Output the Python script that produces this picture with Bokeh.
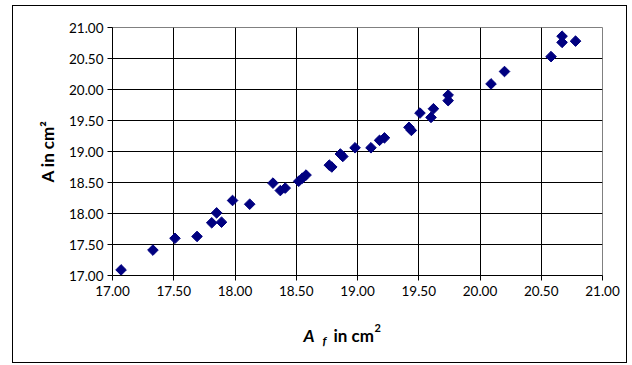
import math
from bokeh.plotting import figure
from bokeh.layouts import column
from bokeh.models import FixedTicker, NumeralTickFormatter, Label, Range1d
from bokeh.embed import file_html
from bokeh.resources import INLINE

# Data
af_values = [17.07, 17.33, 17.51, 17.69, 17.81, 17.85, 17.89, 17.98, 18.12, 18.31,
             18.37, 18.41, 18.52, 18.55, 18.58, 18.77, 18.79, 18.86, 18.88, 18.98,
             19.11, 19.18, 19.22, 19.42, 19.44, 19.51, 19.60, 19.62, 19.74, 19.74,
             20.09, 20.20, 20.58, 20.67, 20.67, 20.78]
a_values = [17.09, 17.41, 17.60, 17.63, 17.85, 18.01, 17.86, 18.21, 18.15, 18.49,
            18.37, 18.41, 18.52, 18.57, 18.62, 18.78, 18.75, 18.96, 18.92, 19.06,
            19.06, 19.18, 19.22, 19.39, 19.34, 19.62, 19.55, 19.69, 19.91, 19.82,
            20.09, 20.29, 20.53, 20.86, 20.76, 20.78]
tick_values = [17.0, 17.5, 18.0, 18.5, 19.0, 19.5, 20.0, 20.5, 21.0]

FONT = "Lato"
W = 613
BOTTOM_H = 57

p = figure(frame_width=490, frame_height=248,
           min_border_left=99, min_border_right=24, min_border_top=21, min_border_bottom=30,
           x_range=Range1d(17, 21), y_range=Range1d(17, 21),
           output_backend="svg", toolbar_location=None)

p.scatter(af_values, a_values, marker="square", angle=math.pi / 4, size=7.5,
          fill_color="#000080", line_color="#000080")

for ax in (p.xaxis[0], p.yaxis[0]):
    ax.ticker = FixedTicker(ticks=tick_values)
    ax.formatter = NumeralTickFormatter(format="0.00")
    ax.major_tick_in = 0
    ax.major_tick_out = 5
    ax.minor_tick_line_color = None
    ax.axis_line_color = "#000000"
    ax.major_tick_line_color = "#000000"
    ax.major_label_text_font = FONT
    ax.major_label_text_font_size = "13.5px"
    ax.major_label_text_color = "#000000"

p.xaxis.major_label_standoff = 5
p.yaxis.major_label_standoff = 4

p.yaxis.axis_label = "A in cm²"
p.yaxis.axis_label_text_font = FONT
p.yaxis.axis_label_text_font_style = "bold"
p.yaxis.axis_label_text_font_size = "17px"
p.yaxis.axis_label_text_color = "#000000"
p.yaxis.axis_label_standoff = 8

for g in (p.xgrid[0], p.ygrid[0]):
    g.ticker = FixedTicker(ticks=tick_values)
    g.grid_line_color = "#000000"
    g.grid_line_width = 1

p.outline_line_color = "#808080"
p.background_fill_color = "#ffffff"
p.border_fill_color = "#ffffff"

# Strip below the plot that carries the x-axis title (A_f in cm²)
q = figure(width=W, height=BOTTOM_H, min_border=0,
           x_range=Range1d(0, W), y_range=Range1d(0, BOTTOM_H),
           x_axis_location=None, y_axis_location=None,
           output_backend="svg", toolbar_location=None)
q.grid.visible = False
q.outline_line_color = None
q.background_fill_color = "#ffffff"
q.border_fill_color = "#ffffff"

common = dict(x_units="screen", y_units="screen", text_font=FONT,
              text_color="#000000", text_baseline="alphabetic")
q.add_layout(Label(x=191, y=27, text="A", text_font_size="17px",
                   text_font_style="bold italic", **common))
q.add_layout(Label(x=210, y=22, text="f", text_font_size="12px",
                   text_font_style="bold italic", **common))
q.add_layout(Label(x=221, y=27, text="in cm", text_font_size="17px",
                   text_font_style="bold", **common))
q.add_layout(Label(x=262, y=35, text="2", text_font_size="11px",
                   text_font_style="bold", **common))

layout = column(p, q, spacing=0)
layout.styles = {"border": "1px solid #000000", "margin-left": "12px", "margin-top": "5px",
                 "background-color": "#ffffff"}

open("out.html", "w").write(file_html(layout, INLINE))
